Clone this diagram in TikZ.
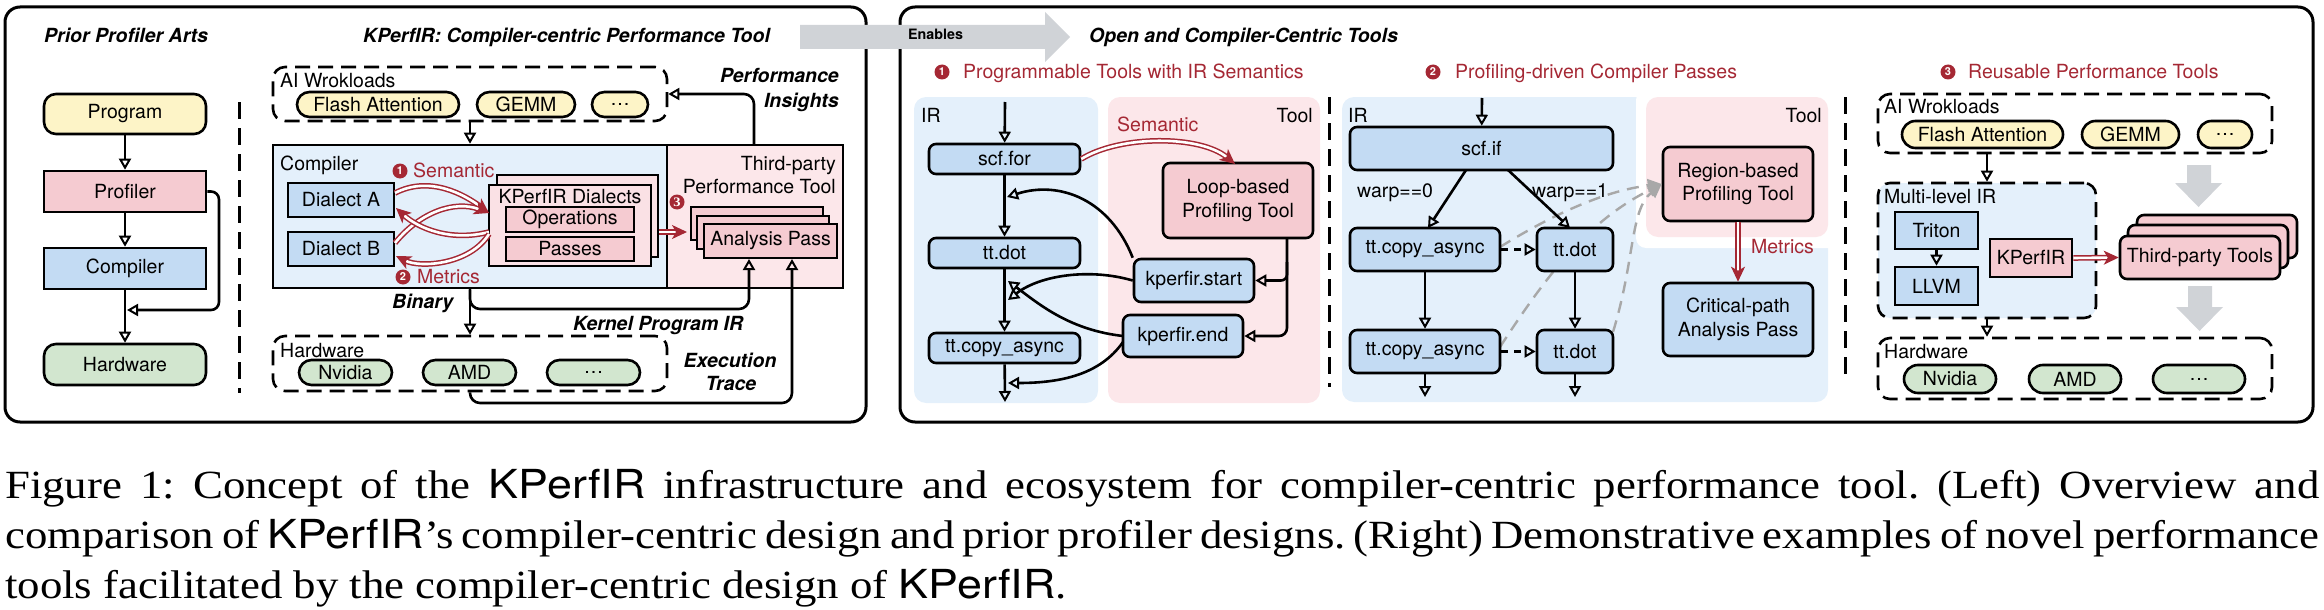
\documentclass[tikz,border=0pt]{standalone}
\usepackage{fontspec}
\setmainfont{TeX Gyre Heros}
\newfontfamily\capfont[FakeStretch=1.12]{Liberation Serif}
\newfontfamily\capsans[FakeStretch=1.12]{TeX Gyre Heros}
\usetikzlibrary{arrows.meta}
\definecolor{cyel}{HTML}{FDF4C7}
\definecolor{cpink}{HTML}{F5CBD1}
\definecolor{lpink}{HTML}{FAE1E5}
\definecolor{cblue}{HTML}{C3DBF3}
\definecolor{cgreen}{HTML}{D2E6CF}
\definecolor{bgblue}{HTML}{E4F0FB}
\definecolor{bgpink}{HTML}{FCE7EA}
\definecolor{cred}{HTML}{A52834}
\definecolor{cgray}{HTML}{D0D3D7}
\definecolor{dgray}{HTML}{A8A8A8}
\newcommand\fsz{\fontsize{19.5}{23.5}\selectfont}
\newcommand\capsz{\capfont\fontsize{40}{50}\selectfont\frenchspacing}
\tikzset{
  every node/.style={inner sep=0pt},
  bx/.style={draw, line width=2.6pt, align=center, font=\fsz},
  sq/.style={bx},
  rd/.style={bx, rounded corners=7pt},
  pill/.style={bx, minimum height=25pt, rounded corners=12.5pt},
  arr/.style={line width=2.6pt, -{Triangle[open, length=11pt, width=12pt, line width=2pt]}},
  rarr/.style={draw=cred, line width=1.5pt, double=white, double distance=2.6pt, -{Stealth[length=15pt, width=14pt, inset=4pt]}},
  dbox/.style={draw, line width=2.6pt, dash pattern=on 15pt off 8pt, rounded corners=12pt},
  vsep/.style={line width=3pt, dash pattern=on 17pt off 9pt},
  panel/.style={draw, line width=3pt, rounded corners=15pt},
  lbl/.style={font=\fsz, anchor=base west},
  lble/.style={font=\fsz, anchor=base east},
  lblc/.style={font=\fsz, anchor=base},
  bil/.style={font=\fsz\bfseries\itshape},
  badge/.style={circle, fill=cred, text=white, minimum size=15pt, font=\bfseries\fontsize{11}{11}\selectfont},
  gdash/.style={draw=dgray, line width=2.4pt, dash pattern=on 12pt off 8pt},
  garr/.style={gdash, -{Triangle[length=14pt, width=13pt, fill=dgray]}},
}
\begin{document}
\begin{tikzpicture}[x=1pt, y=-1pt]
\useasboundingbox (0,0) rectangle (2324,610);
% ---------- panels ----------
\draw[panel] (5,7) rectangle (866,422);
\draw[panel] (900,7) rectangle (2313,422);

% ---------- prior profiler arts ----------
\node[bil, anchor=base west] (t1) at (44,43) {Prior Profiler Arts};
\node[rd, rounded corners=12pt, fill=cyel, minimum width=162pt, minimum height=40pt] (prog) at (125,114) {Program};
\node[sq, fill=cpink, minimum width=162pt, minimum height=41pt] (prof) at (125,191.5) {Profiler};
\node[sq, fill=cblue, minimum width=162pt, minimum height=41pt] (comp) at (125,268.5) {Compiler};
\node[rd, rounded corners=12pt, fill=cgreen, minimum width=162pt, minimum height=41pt] (hw) at (125,364.5) {Hardware};
\draw[arr] (prog) -- (prof);
\draw[arr] (prof) -- (comp);
\draw[arr] (comp) -- (hw);
\draw[arr, rounded corners=8pt] (prof.east) -| (219,310) -- (127,310);
\draw[vsep] (239,102) -- (239,393);

% ---------- KPerfIR ----------
\node[bil, anchor=base west] (t2) at (363,43) {KPerfIR: Compiler-centric Performance Tool};
\node[dbox, minimum width=394pt, minimum height=54pt] (ai1) at (470,94) {};
\node[lbl] (ai1l) at (280,88) {AI Wrokloads};
\node[pill, fill=cyel, minimum width=162pt] (fa1) at (378,104.5) {Flash Attention};
\node[pill, fill=cyel, minimum width=98pt] (gm1) at (526,104.5) {GEMM};
\node[pill, fill=cyel, minimum width=56pt] (dt1) at (620,104.5) {\ldots};
\node[bx, fill=bgblue, minimum width=394pt, minimum height=143pt] (cbox) at (470,216.5) {};
\node[bx, fill=bgpink, minimum width=176pt, minimum height=143pt] (tbox) at (755,216.5) {};
\draw[arr] (ai1.south) -- (cbox.north);
\node[lbl] (cl) at (280,170) {Compiler};
\node[lble] (tp1) at (836,170) {Third-party};
\node[lble] (tp2) at (836,193) {Performance Tool};
\node[badge, font=\capfont\bfseries\fontsize{13}{13}\selectfont] (b3) at (677,202) {3};
\node[sq, fill=cblue, minimum width=106pt, minimum height=34pt] (da) at (341,200) {Dialect A};
\node[sq, fill=cblue, minimum width=106pt, minimum height=34pt] (db) at (341,249) {Dialect B};
\node[sq, fill=lpink, minimum width=161pt, minimum height=82pt] (kd2) at (577.5,216) {};
\node[sq, fill=lpink, minimum width=162pt, minimum height=81pt] (kd) at (570,225.5) {};
\node[lblc] (kdl) at (570,203) {KPerfIR Dialects};
\node[sq, fill=cpink, minimum width=128pt, minimum height=25pt] (ops) at (570,219.5) {Operations};
\node[sq, fill=cpink, minimum width=128pt, minimum height=24pt] (pas) at (570,249) {Passes};
\node[sq, fill=cpink, minimum width=132pt, minimum height=33pt] (an3) at (757,223.5) {};
\node[sq, fill=cpink, minimum width=132pt, minimum height=33pt] (an2) at (763,232.5) {};
\node[sq, fill=cpink, minimum width=133pt, minimum height=34pt] (an) at (770.5,241) {Analysis Pass};
\draw[rarr] (659,232) -- (687,232);
% semantic / metrics arrows
\draw[rarr] (395,193) .. controls (430,175) and (465,195) .. (489,213);
\draw[rarr] (395,243) .. controls (420,212) and (455,200) .. (489,213);
\draw[rarr] (489,232) .. controls (450,242) and (418,228) .. (396,208);
\draw[rarr] (489,234) .. controls (470,265) and (420,268) .. (396,256);
\node[badge] (s1b) at (400,171) {1};
\node[lbl, text=cred] (s1t) at (413,177) {Semantic};
\node[badge] (s2b) at (403,277) {2};
\node[lbl, text=cred] (s2t) at (417,283) {Metrics};
% hardware
\node[dbox, minimum width=394pt, minimum height=55pt] (hwb) at (470,363.5) {};
\node[lbl] (hwl) at (280,357) {Hardware};
\node[pill, fill=cgreen, minimum width=93pt] (nv1) at (345.5,372.5) {Nvidia};
\node[pill, fill=cgreen, minimum width=93pt] (amd1) at (469.5,372.5) {AMD};
\node[pill, fill=cgreen, minimum width=93pt] (hd1) at (593.5,372.5) {\ldots};
% flows
\draw[arr] (cbox.south) -- (hwb.north);
\draw[arr, rounded corners=10pt] (cbox.south) |- (749,309) -- (749,259);
\draw[arr, rounded corners=10pt] (hwb.south) |- (792,403) -- (792,259);
\draw[arr, rounded corners=10pt] (754,145) |- (ai1.east);
\node[bil, anchor=base west] (bin) at (392,308) {Binary};
\node[bil, anchor=base west] (kpi) at (573,330) {Kernel Program IR};
\node[bil, anchor=base] (ex1) at (730,367) {Execution};
\node[bil, anchor=base] (ex2) at (731,390) {Trace};
\node[bil, anchor=base east] (pi1) at (839,83) {Performance};
\node[bil, anchor=base east] (pi2) at (839,107) {Insights};

% ---------- Enables arrow ----------
\fill[cgray] (800,25) -- (1045,25) -- (1045,12) -- (1070,37) -- (1045,62) -- (1045,49) -- (800,49) -- cycle;
\node[anchor=base west, font=\bfseries\fontsize{14.3}{16}\selectfont] (en) at (908,40) {Enables};

% ---------- right panel ----------
\node[bil, anchor=base west] (t3) at (1089,43) {Open and Compiler-Centric Tools};

% section 1
\node[badge] (h1b) at (942,72) {1};
\node[lbl, text=cred] (h1t) at (963,78) {Programmable Tools with IR Semantics};
\fill[bgblue, rounded corners=12pt] (914,97) rectangle (1098,403);
\fill[bgpink, rounded corners=12pt] (1108,97) rectangle (1320,403);
\node[lbl] (ir1) at (921,122) {IR};
\node[lble] (tool1) at (1313,122) {Tool};
\draw[vsep] (1329,97) -- (1329,387);
\node[rd, fill=cblue, minimum width=151pt, minimum height=30pt] (scf) at (1004.5,159) {scf.for};
\node[rd, fill=cblue, minimum width=151pt, minimum height=30pt] (dot) at (1004.5,253) {tt.dot};
\node[rd, fill=cblue, minimum width=151pt, minimum height=30pt] (cpy) at (1004.5,348) {tt.copy\_async};
\node[rd, fill=cpink, minimum width=150pt, minimum height=75pt] (loop) at (1238,200.5) {Loop-based\\Profiling Tool};
\node[rd, fill=cblue, minimum width=120pt, minimum height=43pt] (ks) at (1194,280.5) {kperfir.start};
\node[rd, fill=cblue, minimum width=120pt, minimum height=42pt] (ke) at (1183,336) {kperfir.end};
\coordinate (in1) at (1005,102);
\coordinate (out1) at (1005,402);
\draw[arr] (in1) -- (scf);
\draw[arr] (scf) -- (dot);
\draw[arr] (dot) -- (cpy);
\draw[arr] (cpy) -- (out1);
\draw[arr, rounded corners=8pt] (1287,238) |- (ke.east);
\draw[arr, rounded corners=6pt] (1287,262) |- (ks.east);
\draw[rarr] (scf.east) .. controls (1120,135) and (1200,135) .. (1235,164);
\node[lbl, text=cred] (sem1) at (1117,131) {Semantic};
\draw[arr] (ks.north west) .. controls (1110,200) and (1060,180) .. (1007,197);
\draw[arr] (ks.west) .. controls (1090,268) and (1040,275) .. (1008,300);
\draw[arr] (1123,336) .. controls (1070,330) and (1040,305) .. (1008,281);
\draw[arr] (1123,342) .. controls (1100,375) and (1060,383) .. (1008,383);

% section 2
\node[badge] (h2b) at (1433,72) {2};
\node[lbl, text=cred] (h2t) at (1455,78) {Profiling-driven Compiler Passes};
\fill[bgblue, rounded corners=12pt] (1342,97) rectangle (1828,402);
\fill[white, rounded corners=10pt] (1636,90) rectangle (1838,248);
\fill[bgpink, rounded corners=12pt] (1646,97) rectangle (1828,237);
\node[lbl] (ir2) at (1348,122) {IR};
\node[lble] (tool2) at (1822,122) {Tool};
\draw[vsep] (1845,97) -- (1845,377);
\node[rd, fill=cblue, minimum width=263pt, minimum height=43pt] (sif) at (1481.5,148.5) {scf.if};
\coordinate (in2) at (1482,98);
\draw[arr] (in2) -- (sif);
\node[rd, fill=cpink, minimum width=150pt, minimum height=74pt] (reg) at (1738,184) {Region-based\\Profiling Tool};
\draw[garr] (1500,247) .. controls (1560,210) and (1610,190) .. (reg.west);
\draw[garr] (1500,347) .. controls (1550,270) and (1590,220) .. (reg.west);
\draw[garr] (1613,332) .. controls (1635,260) and (1630,210) .. (reg.west);
\node[lbl] (w0) at (1357,197) {warp==0};
\node[lbl] (w1) at (1532,197) {warp==1};
\node[rd, fill=cblue, minimum width=150pt, minimum height=43pt] (ca1) at (1425,249.5) {tt.copy\_async};
\node[rd, fill=cblue, minimum width=76pt, minimum height=43pt] (td1) at (1575,249.5) {tt.dot};
\node[rd, fill=cblue, minimum width=150pt, minimum height=43pt] (ca2) at (1425,351.5) {tt.copy\_async};
\node[rd, fill=cblue, minimum width=76pt, minimum height=43pt] (td2) at (1575,351.5) {tt.dot};
\draw[arr] (1466,170) -- (1428,228);
\draw[arr] (1508,170) -- (1570,228);
\draw[arr] (ca1) -- (ca2);
\draw[arr] (td1) -- (td2);
\coordinate (o2a) at (1425,397);
\coordinate (o2b) at (1575,397);
\draw[arr] (ca2) -- (o2a);
\draw[arr] (td2) -- (o2b);
\draw[arr, dash pattern=on 7pt off 6pt] (ca1) -- (td1);
\draw[arr, dash pattern=on 7pt off 6pt] (ca2) -- (td2);
\node[rd, fill=cblue, minimum width=150pt, minimum height=73pt] (crit) at (1738,319.5) {Critical-path\\Analysis Pass};
\draw[rarr] (reg) -- (crit);
\node[lbl, text=cred] (met2) at (1751,253) {Metrics};

% section 3
\node[badge] (h3b) at (1948,72) {3};
\node[lbl, text=cred] (h3t) at (1968,78) {Reusable Performance Tools};
\node[dbox, minimum width=394pt, minimum height=59pt] (ai2) at (2075,123.5) {};
\node[lbl] (ai2l) at (1884,113) {AI Wrokloads};
\node[pill, fill=cyel, minimum width=161pt, minimum height=27pt, rounded corners=13.5pt] (fa2) at (1982.5,134.5) {Flash Attention};
\node[pill, fill=cyel, minimum width=97pt, minimum height=27pt, rounded corners=13.5pt] (gm2) at (2130.5,134.5) {GEMM};
\node[pill, fill=cyel, minimum width=54pt, minimum height=27pt, rounded corners=13.5pt] (dt2) at (2225,134.5) {\ldots};
\node[dbox, fill=bgblue, minimum width=218pt, minimum height=135pt] (ml) at (1987,250.5) {};
\draw[arr] (ai2.south -| ml.north) -- (ml.north);
\node[lbl] (mll) at (1884,203) {Multi-level IR};
\node[sq, fill=cblue, minimum width=83pt, minimum height=37pt] (tri) at (1936.5,230.5) {Triton};
\node[sq, fill=cblue, minimum width=83pt, minimum height=38pt] (llvm) at (1936.5,286) {LLVM};
\draw[arr] (tri) -- (llvm);
\node[sq, fill=cpink, minimum width=82pt, minimum height=38pt] (kp) at (2031,258) {KPerfIR};
\node[rd, fill=cpink, minimum width=160pt, minimum height=43pt] (tt3) at (2217,236.5) {};
\node[rd, fill=cpink, minimum width=160pt, minimum height=43pt] (tt2) at (2208,246.5) {};
\node[rd, fill=cpink, minimum width=160pt, minimum height=43pt] (tt) at (2200,257.5) {Third-party Tools};
\draw[rarr] (kp.east) -- (tt.west);
\fill[cgray] (2187,165) -- (2211,165) -- (2211,183) -- (2222,183) -- (2198.5,207) -- (2175,183) -- (2187,183) -- cycle;
\fill[cgray] (2188,286) -- (2212,286) -- (2212,307) -- (2223,307) -- (2199.5,331) -- (2176,307) -- (2188,307) -- cycle;
\node[dbox, minimum width=394pt, minimum height=61pt] (hw2) at (2075,368.5) {};
\draw[arr] (ml.south) -- (ml.south |- hw2.north);
\node[lbl] (hw2l) at (1884,358) {Hardware};
\node[pill, fill=cgreen, minimum width=92pt, minimum height=28pt, rounded corners=14pt] (nv2) at (1950,379) {Nvidia};
\node[pill, fill=cgreen, minimum width=92pt, minimum height=28pt, rounded corners=14pt] (amd2) at (2075,379) {AMD};
\node[pill, fill=cgreen, minimum width=92pt, minimum height=28pt, rounded corners=14pt] (hd2) at (2199,379) {\ldots};

% ---------- caption ----------
\node[anchor=base west, font=\capsz] (cap1) at (5,498) {\makebox[2314pt][s]{Figure 1: Concept of the {\capsans KPerfIR} infrastructure and ecosystem for compiler-centric performance tool. (Left) Overview and}};
\node[anchor=base west, font=\capsz] (cap2) at (5,548) {\makebox[2314pt][s]{comparison of {\capsans KPerfIR}’s compiler-centric design and prior profiler designs. (Right) Demonstrative examples of novel performance}};
\node[anchor=base west, font=\capsz] (cap3) at (5,598) {tools facilitated by the compiler-centric design of {\capsans KPerfIR}.};
\end{tikzpicture}
\end{document}
